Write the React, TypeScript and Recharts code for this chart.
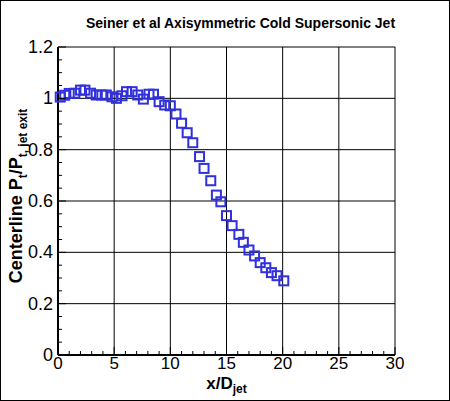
import { CartesianGrid, Scatter, ScatterChart, XAxis, YAxis } from 'recharts';

// Seiner et al. centerline total-pressure ratio
const xOverD = [
  0.2, 0.6, 1.0, 1.5, 2.0, 2.4, 2.9, 3.4, 3.9, 4.3, 4.8, 5.2, 5.7, 6.1, 6.6, 7.1, 7.6, 8.1, 8.5, 9.0,
  9.5, 10.0, 10.5, 11.0, 11.5, 12.0, 12.6, 13.0, 13.6, 14.1, 14.5, 15.0, 15.5, 16.1, 16.5, 17.0, 17.5,
  18.0, 18.5, 19.0, 19.5, 20.1,
];
const ptRatio = [
  1.005, 1.012, 1.019, 1.02, 1.032, 1.032, 1.02, 1.013, 1.013, 1.013, 1.006, 1.0, 1.01, 1.026, 1.026,
  1.013, 0.997, 1.016, 1.016, 0.987, 0.974, 0.971, 0.939, 0.903, 0.866, 0.827, 0.773, 0.727, 0.679,
  0.623, 0.597, 0.543, 0.504, 0.47, 0.439, 0.409, 0.386, 0.36, 0.34, 0.321, 0.309, 0.289,
];

const xTicks = [0, 1, 2, 3, 4, 5, 6, 7, 8, 9, 10, 11, 12, 13, 14, 15, 16, 17, 18, 19, 20, 21, 22, 23, 24, 25, 26, 27, 28, 29, 30];
const xLabelTicks = [0, 5, 10, 15, 20, 25, 30];
const yTicks = [
  0, 0.05, 0.1, 0.15, 0.2, 0.25, 0.3, 0.35, 0.4, 0.45, 0.5, 0.55, 0.6, 0.65, 0.7, 0.75, 0.8, 0.85, 0.9,
  0.95, 1, 1.05, 1.1, 1.15, 1.2,
];
const yLabelTicks = [0, 0.2, 0.4, 0.6, 0.8, 1, 1.2];

const data = xOverD.map((x, i) => ({ x, y: ptRatio[i] }));

const FONT = '"Liberation Sans", Arial, Helvetica, sans-serif';
const MARKER = '#3030dc';

const isLabel = (list: number[], v: number) => list.some((t) => Math.abs(t - v) < 1e-6);

function XTick(props: any) {
  const { x, y, payload } = props;
  const major = isLabel(xLabelTicks, payload.value);
  return (
    <g>
      <line x1={x} y1={y} x2={x} y2={y - (major ? 8 : 4)} stroke="#000" strokeWidth={1} />
      {major && (
        <text x={x} y={y + 14} textAnchor="middle" fontSize={17} fontFamily={FONT} fill="#000">
          {payload.value}
        </text>
      )}
    </g>
  );
}

function YTick(props: any) {
  const { x, y, payload } = props;
  const major = isLabel(yLabelTicks, payload.value);
  return (
    <g>
      <line x1={x} y1={y} x2={x + (major ? 8 : 4)} y2={y} stroke="#000" strokeWidth={1} />
      {major && (
        <text x={x - 5} y={y + 6} textAnchor="end" fontSize={18} fontFamily={FONT} fill="#000">
          {String(Math.round(payload.value * 10) / 10)}
        </text>
      )}
    </g>
  );
}

function XLabel(props: any) {
  const vb = props.viewBox || { x: 58, y: 355, width: 337, height: 46 };
  const cx = vb.x + vb.width / 2;
  return (
    <text x={cx} y={vb.y + 34} textAnchor="middle" fontFamily={FONT} fontWeight="bold" fontSize={17} fill="#000">
      x/D
      <tspan fontSize={12} dy={4}>jet</tspan>
    </text>
  );
}

function YLabel(props: any) {
  const vb = props.viewBox || { x: 0, y: 47, width: 58, height: 308 };
  const x = vb.x + 22;
  const y = vb.y + vb.height / 2 - 5;
  return (
    <text
      x={x}
      y={y}
      transform={`rotate(-90, ${x}, ${y})`}
      textAnchor="middle"
      fontFamily={FONT}
      fontWeight="bold"
      fontSize={18}
      fill="#000"
    >
      Centerline P
      <tspan fontSize={12} dy={5}>t</tspan>
      <tspan fontSize={18} dy={-5}>/P</tspan>
      <tspan fontSize={12} dy={5}>t, jet exit</tspan>
    </text>
  );
}

function SquareMarker(props: any) {
  const { cx, cy } = props;
  return <rect x={cx - 4.5} y={cy - 4.5} width={9} height={9} fill="none" stroke={MARKER} strokeWidth={2} />;
}

export default function App() {
  return (
    <div
      style={{
        position: 'absolute',
        left: 0,
        top: 0,
        width: 450,
        height: 401,
        boxSizing: 'border-box',
        border: '1px solid #000',
        background: '#fff',
        fontFamily: FONT,
      }}
    >
      <div
        style={{
          position: 'absolute',
          left: -1,
          top: 14,
          width: 481,
          textAlign: 'center',
          fontSize: 14,
          lineHeight: '16px',
          fontWeight: 'bold',
          color: '#000',
        }}
      >
        Seiner et al Axisymmetric Cold Supersonic Jet
      </div>
      <div style={{ position: 'absolute', left: -1, top: -1 }}>
        <ScatterChart width={450} height={401} margin={{ top: 47, right: 55, bottom: 0, left: 0 }}>
          <CartesianGrid
            stroke="#000"
            strokeWidth={1}
            verticalValues={[5, 10, 15, 20, 25, 30]}
            horizontalValues={[0.2, 0.4, 0.6, 0.8, 1, 1.2]}
          />
          <XAxis
            type="number"
            dataKey="x"
            domain={[0, 30]}
            ticks={xTicks}
            interval={0}
            height={46}
            tickSize={0}
            tickMargin={0}
            tickLine={false}
            axisLine={{ stroke: '#000', strokeWidth: 2 }}
            tick={(p: any) => <XTick {...p} />}
            label={(p: any) => <XLabel {...p} />}
          />
          <YAxis
            type="number"
            dataKey="y"
            domain={[0, 1.2]}
            ticks={yTicks}
            interval={0}
            width={58}
            tickSize={0}
            tickMargin={0}
            tickLine={false}
            axisLine={{ stroke: '#000', strokeWidth: 2 }}
            tick={(p: any) => <YTick {...p} />}
            label={(p: any) => <YLabel {...p} />}
          />
          <Scatter data={data} shape={(p: any) => <SquareMarker {...p} />} isAnimationActive={false} />
        </ScatterChart>
      </div>
    </div>
  );
}
